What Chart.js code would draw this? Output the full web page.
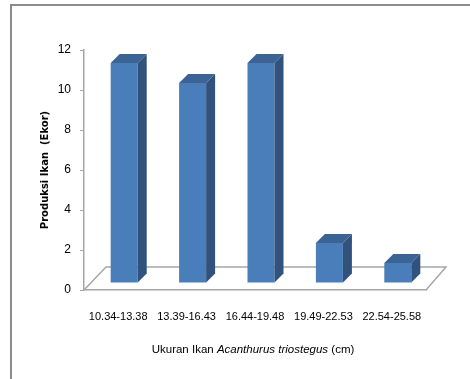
<!DOCTYPE html>
<html>
<head>
<meta charset="utf-8">
<script src="https://cdn.jsdelivr.net/npm/chart.js@4/dist/chart.umd.min.js"></script>
<style>
html,body{margin:0;padding:0;background:#fff;overflow:hidden;}
#wrap{position:relative;width:470px;height:379px;overflow:hidden;}
#frame{position:absolute;left:10px;top:4px;width:480px;height:400px;border-left:2px solid #8c8c8c;border-top:2px solid #8c8c8c;box-sizing:border-box;}
canvas{position:absolute;left:0;top:0;}
</style>
</head>
<body>
<div id="wrap">
<div id="frame"></div>
<canvas id="c" width="470" height="379"></canvas>
</div>
<script>
const categories = ["10.34-13.38", "13.39-16.43", "16.44-19.48", "19.49-22.53", "22.54-25.58"];
const production = [11, 10, 11, 2, 1];
const yTicks = [0, 2, 4, 6, 8, 10, 12];

const FRONT = '#4a7ebb';
const SIDE = '#30527d';
const TOP = '#3b6393';
const SHIFT_X = 6, SHIFT_Y = -7;   // bar placement within depth
const DEPTH = 9;                   // bar depth
const FLOOR_DX = 22, FLOOR_DY = 23;
const FAM = '"Liberation Sans", Arial, sans-serif';

const threeD = {
  id: 'threeD',
  beforeDatasetsDraw(chart) {
    const ctx = chart.ctx;
    const a = chart.chartArea;
    const yb = chart.scales.y.getPixelForValue(0);
    ctx.save();
    ctx.strokeStyle = '#a6a6a6';
    ctx.lineWidth = 1.5;
    ctx.beginPath();
    ctx.moveTo(a.left, yb);
    ctx.lineTo(a.left + FLOOR_DX, yb - FLOOR_DY);
    ctx.lineTo(a.right + FLOOR_DX - 2, yb - FLOOR_DY);
    ctx.lineTo(a.right, yb);
    ctx.stroke();
    ctx.restore();
    ctx.save();
    ctx.translate(SHIFT_X, SHIFT_Y);
  },
  afterDatasetsDraw(chart) {
    const ctx = chart.ctx;
    const meta = chart.getDatasetMeta(0);
    meta.data.forEach(bar => {
      const p = bar.getProps(['x', 'y', 'base', 'width'], true);
      const l = p.x - p.width / 2, r = p.x + p.width / 2;
      ctx.fillStyle = SIDE;
      ctx.beginPath();
      ctx.moveTo(r, p.y);
      ctx.lineTo(r + DEPTH, p.y - DEPTH);
      ctx.lineTo(r + DEPTH, p.base - DEPTH);
      ctx.lineTo(r, p.base);
      ctx.closePath();
      ctx.fill();
      ctx.fillStyle = TOP;
      ctx.beginPath();
      ctx.moveTo(l, p.y);
      ctx.lineTo(l + DEPTH, p.y - DEPTH);
      ctx.lineTo(r + DEPTH, p.y - DEPTH);
      ctx.lineTo(r, p.y);
      ctx.closePath();
      ctx.fill();
    });
    ctx.restore();
  },
  afterDraw(chart) {
    const ctx = chart.ctx;
    ctx.save();
    ctx.fillStyle = '#000';
    ctx.textBaseline = 'middle';
    const parts = [
      ['Ukuran Ikan ', '11.5px ' + FAM],
      ['Acanthurus triostegus', 'italic 11.5px ' + FAM],
      [' (cm)', '11.5px ' + FAM]
    ];
    let total = 0;
    parts.forEach(pt => { ctx.font = pt[1]; total += ctx.measureText(pt[0]).width; });
    let x = 253 - total / 2;
    parts.forEach(pt => {
      ctx.font = pt[1];
      ctx.fillText(pt[0], x, 350);
      x += ctx.measureText(pt[0]).width;
    });
    ctx.restore();
  }
};

new Chart(document.getElementById('c'), {
  type: 'bar',
  data: {
    labels: categories,
    datasets: [{
      data: production,
      backgroundColor: FRONT,
      borderWidth: 0,
      barPercentage: 0.395,
      categoryPercentage: 1
    }]
  },
  options: {
    responsive: false,
    animation: false,
    layout: { padding: { left: 0, right: 44, top: 50, bottom: 0 } },
    plugins: { legend: { display: false }, tooltip: { enabled: false } },
    scales: {
      x: {
        grid: { display: false, drawTicks: false },
        border: { display: true, color: '#a6a6a6', width: 1.5 },
        ticks: {
          color: '#000',
          padding: 20,
          maxRotation: 0,
          autoSkip: false,
          font: { family: FAM, size: 11 }
        },
        afterFit(s) { s.height = 89; }
      },
      y: {
        min: 0,
        max: 12,
        afterBuildTicks(s) { s.ticks = yTicks.map(v => ({ value: v })); },
        grid: { drawOnChartArea: false, drawTicks: true, tickLength: 4, color: '#a6a6a6' },
        border: { display: true, color: '#a6a6a6', width: 1.5 },
        ticks: {
          color: '#000',
          padding: 9,
          font: { family: FAM, size: 12 }
        },
        title: {
          display: true,
          text: 'Produksi Ikan  (Ekor)',
          color: '#000',
          padding: { top: 39, bottom: 0 },
          font: { family: 'Verdana, "DejaVu Sans", sans-serif', size: 10, weight: 'bold' }
        },
        afterFit(s) { s.width = 84; }
      }
    }
  },
  plugins: [threeD]
});
</script>
</body>
</html>
